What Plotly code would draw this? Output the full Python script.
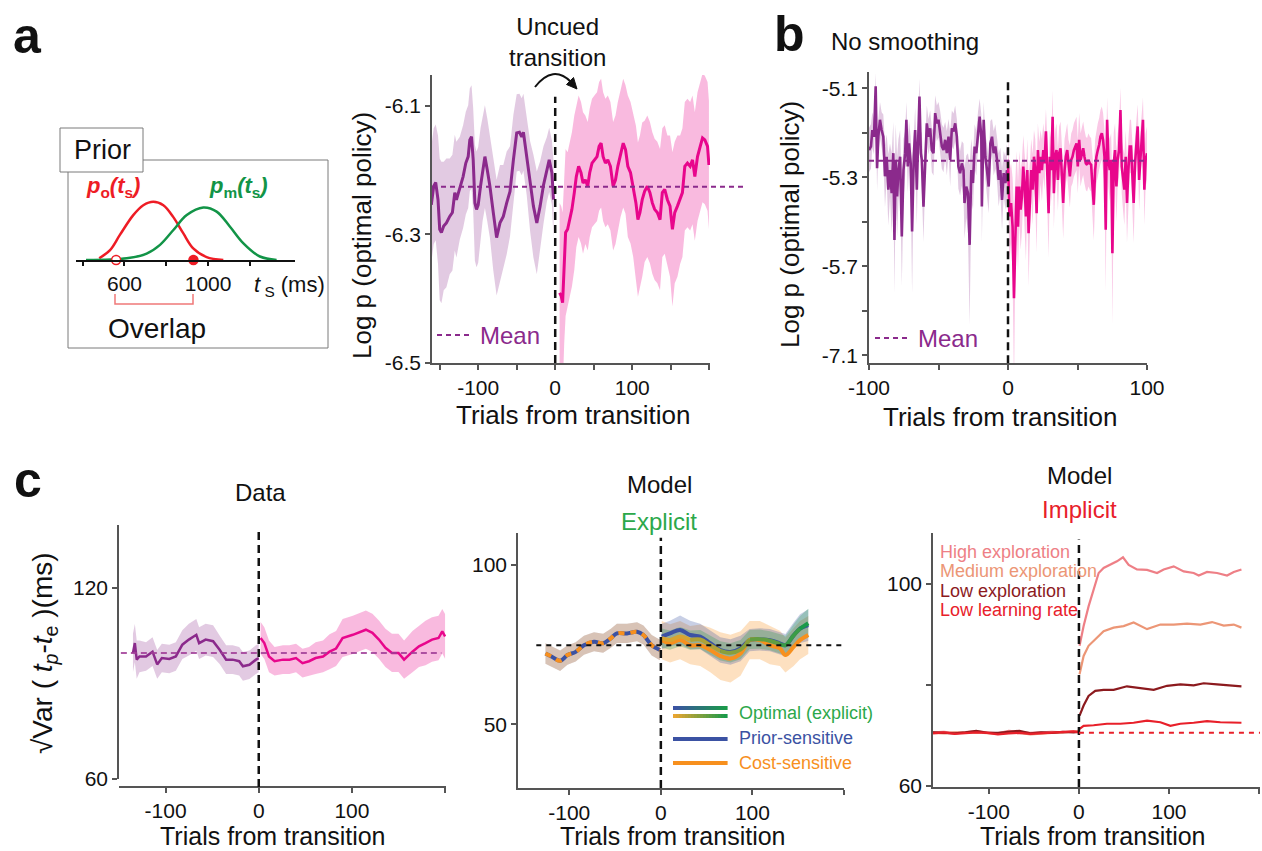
import plotly.graph_objects as go

W, H = 1262, 851
FONT = "Liberation Sans, Arial, Helvetica, sans-serif"


def fx(p):
    return p / W


def fy(p):
    return 1 - p / H


# ---------------- data ----------------
# a (inset): prior distributions over sample interval t_s (ms)
prior_o_ms = [479, 531, 578, 642, 690, 738, 786, 833, 881, 929, 993, 1073]
prior_o_p = [0.03, 0.17, 0.43, 0.77, 0.94, 1.0, 0.94, 0.74, 0.46, 0.20, 0.05, 0.0]
prior_m_ms = [416, 611, 706, 770, 833, 898, 977, 1041, 1105, 1168, 1248, 1328]
prior_m_p = [0.0, 0.03, 0.11, 0.26, 0.51, 0.77, 0.90, 0.83, 0.57, 0.29, 0.06, 0.0]
overlap_ms = [560, 930]

# a: smoothed log p (optimal policy)
a_pre_t = [-160.9, -157.8, -155.2, -152.2, -150.0, -147.8, -144.8, -141.3, -137.0, -133.5,
           -130.4, -128.3, -123.9, -119.6, -116.1, -113.0, -110.9, -108.7, -106.5, -104.3,
           -102.2, -100.0, -97.0, -94.3, -91.3, -88.3, -84.8, -80.4, -76.1, -71.7,
           -67.4, -63.0, -58.7, -54.3, -50.0, -46.5, -43.5, -41.3, -37.0, -32.6,
           -28.3, -23.9, -19.6, -15.2, -10.9, -7.8, -4.3, -2.2]
a_pre_v = [-6.254, -6.225, -6.219, -6.246, -6.292, -6.297, -6.287, -6.282, -6.272, -6.266,
           -6.235, -6.246, -6.228, -6.210, -6.189, -6.179, -6.153, -6.148, -6.184, -6.251,
           -6.261, -6.254, -6.225, -6.199, -6.179, -6.199, -6.225, -6.266, -6.305, -6.282,
           -6.272, -6.251, -6.233, -6.184, -6.142, -6.141, -6.148, -6.141, -6.179, -6.225,
           -6.256, -6.282, -6.256, -6.223, -6.199, -6.184, -6.204, -6.246]
a_pre_s = [0.09, 0.09, 0.09, 0.10, 0.11, 0.11, 0.10, 0.10, 0.09, 0.09,
           0.09, 0.09, 0.08, 0.08, 0.08, 0.08, 0.08, 0.08, 0.08, 0.09,
           0.09, 0.09, 0.09, 0.08, 0.08, 0.08, 0.08, 0.09, 0.09, 0.09,
           0.08, 0.08, 0.07, 0.07, 0.06, 0.06, 0.06, 0.06, 0.06, 0.07,
           0.08, 0.08, 0.07, 0.06, 0.05, 0.05, 0.05, 0.06]
a_post_t = [5.7, 7.8, 9.6, 11.7, 13.5, 16.1, 18.7, 21.7, 24.8, 27.4,
            30.4, 33.5, 36.1, 39.1, 42.2, 44.8, 47.8, 50.9, 54.3, 57.0,
            59.6, 62.2, 65.2, 68.3, 71.7, 75.2, 78.3, 81.3, 84.8, 88.3,
            91.3, 94.3, 97.8, 101.3, 104.8, 107.4, 110.0, 113.0, 116.1, 119.6,
            123.0, 126.1, 129.1, 132.6, 136.1, 139.1, 142.2, 145.7, 149.1, 152.2,
            155.2, 158.7, 162.2, 165.2, 168.3, 171.7, 175.2, 178.3, 181.3, 184.8,
            188.3, 191.3, 194.3, 197.8, 199.6]
a_post_v = [-6.391, -6.396, -6.406, -6.339, -6.297, -6.292, -6.277, -6.261, -6.235, -6.210,
            -6.194, -6.204, -6.220, -6.215, -6.225, -6.204, -6.189, -6.184, -6.179, -6.163,
            -6.158, -6.179, -6.189, -6.184, -6.194, -6.225, -6.215, -6.194, -6.173, -6.158,
            -6.168, -6.194, -6.204, -6.225, -6.251, -6.277, -6.266, -6.246, -6.233, -6.225,
            -6.235, -6.251, -6.261, -6.266, -6.277, -6.235, -6.230, -6.246, -6.256, -6.292,
            -6.266, -6.256, -6.246, -6.235, -6.194, -6.189, -6.194, -6.184, -6.210, -6.179,
            -6.163, -6.150, -6.153, -6.163, -6.192]
a_post_s = [0.14, 0.14, 0.14, 0.13, 0.13, 0.12, 0.12, 0.12, 0.12, 0.11,
            0.11, 0.11, 0.11, 0.10, 0.10, 0.10, 0.10, 0.10, 0.10, 0.10,
            0.10, 0.10, 0.10, 0.10, 0.10, 0.10, 0.10, 0.10, 0.10, 0.10,
            0.10, 0.11, 0.11, 0.11, 0.12, 0.12, 0.12, 0.12, 0.11, 0.11,
            0.11, 0.11, 0.11, 0.11, 0.11, 0.10, 0.10, 0.10, 0.11, 0.12,
            0.11, 0.11, 0.10, 0.10, 0.10, 0.10, 0.10, 0.10, 0.10, 0.10,
            0.10, 0.10, 0.10, 0.10, 0.10]
a_mean = -6.226

# b: unsmoothed log p (optimal policy)
b_pre_t = [-100.0, -98.6, -97.6, -96.4, -95.2, -94.2, -93.3, -92.1, -90.9, -89.7,
           -88.5, -87.3, -86.1, -84.9, -83.7, -82.5, -81.7, -80.8, -79.8, -78.8,
           -77.6, -76.4, -75.2, -74.0, -73.1, -72.1, -71.2, -70.0, -69.0, -67.8,
           -66.8, -65.6, -64.9, -63.7, -62.7, -62.0, -60.8, -59.6, -58.4, -57.2,
           -56.0, -54.8, -53.6, -52.4, -51.2, -50.0, -48.8, -47.6, -46.4, -45.2,
           -44.0, -42.8, -41.6, -40.4, -39.2, -38.0, -36.8, -35.7, -34.5, -33.2,
           -32.0, -31.3, -30.0, -28.8, -27.6, -26.4, -25.2, -24.0, -22.8, -21.6,
           -20.4, -19.2, -18.8, -17.5, -16.3, -15.1, -13.9, -12.7, -11.5, -10.3,
           -9.1, -7.9, -6.7, -5.5, -4.3, -3.1, -1.9, -0.7]
b_pre_v = [-5.239, -5.231, -5.194, -5.209, -5.096, -5.280, -5.209, -5.171, -5.194, -5.209,
           -5.298, -5.254, -5.328, -5.284, -5.336, -5.246, -5.441, -5.261, -5.343, -5.284,
           -5.254, -5.433, -5.284, -5.246, -5.171, -5.276, -5.224, -5.269, -5.422, -5.254,
           -5.194, -5.328, -5.246, -5.119, -5.246, -5.261, -5.366, -5.261, -5.179, -5.209,
           -5.190, -5.239, -5.246, -5.156, -5.179, -5.171, -5.201, -5.231, -5.239, -5.216,
           -5.246, -5.209, -5.261, -5.190, -5.197, -5.179, -5.209, -5.276, -5.291, -5.269,
           -5.284, -5.358, -5.321, -5.336, -5.452, -5.284, -5.313, -5.231, -5.246, -5.194,
           -5.164, -5.209, -5.366, -5.171, -5.254, -5.284, -5.321, -5.224, -5.209, -5.246,
           -5.231, -5.261, -5.306, -5.284, -5.351, -5.291, -5.313, -5.284]
b_pre_s = [0.05, 0.05, 0.04, 0.04, 0.03, 0.05, 0.04, 0.04, 0.04, 0.05,
           0.07, 0.05, 0.08, 0.06, 0.09, 0.07, 0.12, 0.08, 0.09, 0.07,
           0.06, 0.11, 0.07, 0.05, 0.04, 0.06, 0.05, 0.06, 0.14, 0.06,
           0.05, 0.08, 0.05, 0.04, 0.05, 0.06, 0.08, 0.05, 0.04, 0.04,
           0.04, 0.05, 0.05, 0.04, 0.04, 0.04, 0.05, 0.05, 0.05, 0.04,
           0.05, 0.04, 0.06, 0.04, 0.04, 0.04, 0.04, 0.05, 0.05, 0.05,
           0.06, 0.08, 0.07, 0.09, 0.18, 0.07, 0.06, 0.05, 0.05, 0.04,
           0.04, 0.05, 0.08, 0.04, 0.05, 0.06, 0.06, 0.05, 0.04, 0.05,
           0.05, 0.05, 0.06, 0.05, 0.07, 0.05, 0.06, 0.06]
b_post_t = [0.0, 1.0, 2.2, 3.3, 4.3, 5.3, 6.2, 7.2, 8.1, 9.1,
            10.0, 11.0, 12.0, 12.9, 13.9, 14.8, 15.8, 16.7, 17.7, 18.7,
            19.6, 20.6, 21.5, 22.5, 23.4, 24.4, 25.4, 26.3, 27.3, 28.2,
            29.2, 30.1, 31.1, 32.1, 33.0, 34.0, 34.9, 35.9, 36.8, 37.8,
            38.8, 39.7, 40.7, 41.6, 42.6, 43.5, 44.5, 45.5, 46.4, 47.4,
            48.3, 49.3, 50.2, 51.2, 52.2, 53.1, 54.1, 55.0, 56.0, 56.9,
            57.9, 58.9, 59.8, 60.8, 61.7, 62.7, 63.6, 64.6, 65.6, 66.5,
            67.5, 68.4, 69.4, 70.3, 71.3, 72.2, 73.2, 74.2, 75.1, 76.1,
            77.0, 78.0, 78.9, 79.9, 80.9, 81.8, 82.8, 83.7, 84.7, 85.6,
            86.6, 87.6, 88.5, 89.5, 90.4, 91.4, 92.3, 93.3, 94.3, 95.2,
            96.2, 97.1, 98.1, 99.0, 100.0]
b_post_v = [-5.261, -5.388, -5.358, -5.411, -5.572, -5.396, -5.321, -5.411, -5.321, -5.373,
            -5.343, -5.276, -5.321, -5.388, -5.284, -5.426, -5.343, -5.284, -5.328, -5.254,
            -5.284, -5.381, -5.239, -5.291, -5.254, -5.284, -5.239, -5.269, -5.197, -5.291,
            -5.381, -5.254, -5.284, -5.164, -5.336, -5.254, -5.239, -5.306, -5.246, -5.235,
            -5.291, -5.358, -5.284, -5.254, -5.239, -5.276, -5.298, -5.261, -5.254, -5.239,
            -5.231, -5.224, -5.276, -5.216, -5.261, -5.246, -5.235, -5.254, -5.269, -5.272,
            -5.261, -5.269, -5.272, -5.321, -5.362, -5.284, -5.254, -5.239, -5.227, -5.209,
            -5.201, -5.216, -5.254, -5.418, -5.171, -5.261, -5.284, -5.261, -5.471, -5.269,
            -5.239, -5.321, -5.261, -5.239, -5.149, -5.276, -5.306, -5.328, -5.254, -5.358,
            -5.284, -5.231, -5.231, -5.306, -5.358, -5.269, -5.224, -5.186, -5.306, -5.254,
            -5.194, -5.171, -5.328, -5.261, -5.246]
b_post_s = [0.06, 0.10, 0.09, 0.11, 0.20, 0.10, 0.08, 0.10, 0.08, 0.09,
            0.08, 0.07, 0.08, 0.10, 0.07, 0.12, 0.08, 0.07, 0.08, 0.06,
            0.07, 0.09, 0.06, 0.07, 0.06, 0.07, 0.06, 0.06, 0.05, 0.07,
            0.10, 0.06, 0.07, 0.06, 0.08, 0.06, 0.06, 0.07, 0.06, 0.06,
            0.07, 0.08, 0.07, 0.06, 0.06, 0.06, 0.07, 0.06, 0.06, 0.06,
            0.06, 0.06, 0.06, 0.06, 0.06, 0.06, 0.06, 0.06, 0.06, 0.06,
            0.06, 0.06, 0.06, 0.07, 0.08, 0.07, 0.06, 0.06, 0.06, 0.06,
            0.06, 0.06, 0.06, 0.14, 0.05, 0.06, 0.07, 0.06, 0.16, 0.07,
            0.06, 0.08, 0.06, 0.06, 0.05, 0.06, 0.07, 0.08, 0.06, 0.09,
            0.07, 0.06, 0.06, 0.07, 0.09, 0.06, 0.06, 0.05, 0.07, 0.06,
            0.05, 0.05, 0.08, 0.06, 0.06]
b_mean = -5.263
b_ticks = [-5.1, -5.2, -5.3, -5.4, -5.5, -5.6, -5.7]
b_ticktext = ["-5.1", "", "-5.3", "", "-5.7", "", "-7.1"]

# c (left): data, sqrt Var(tp - te) in ms
c1_pre_t = [-135, -133, -131, -128, -121, -114, -109, -104, -96, -89, -82, -75,
            -67, -64, -57, -49, -42, -35, -28, -21, -17, -10, -3, 0]
c1_pre_v = [99.6, 102.7, 97.5, 98.5, 98.5, 100.0, 96.0, 98.0, 97.7, 98.5, 102.2, 103.8,
            105.3, 102.7, 103.8, 103.3, 100.6, 97.5, 97.5, 97.0, 95.4, 95.9, 97.5, 98.0]
c1_pre_s = [6, 6, 6, 5, 4.5, 4.5, 4.5, 4.5, 4.5, 4.5, 4.5, 5,
            5, 5, 5, 5, 4.5, 4.5, 4.5, 4.5, 4.5, 4.5, 4.5, 4.5]
c1_post_t = [2, 6, 11, 17, 26, 33, 40, 47, 54, 61, 69, 76, 83, 90, 101,
             108, 115, 122, 129, 136, 143, 150, 156, 165, 172, 179, 186, 193, 197, 200]
c1_post_v = [104.3, 102.7, 98.5, 97.0, 97.5, 97.5, 98.0, 96.4, 97.0, 98.0, 98.5, 100.0, 101.0, 104.3, 105.3,
             106.1, 106.9, 105.9, 103.8, 101.2, 99.6, 99.6, 97.5, 100.0, 101.7, 102.7, 103.8, 104.3, 106.4, 104.8]
c1_post_s = [5, 5, 5, 4.5, 4.5, 4.5, 4.5, 4.5, 4.5, 5, 5, 5.5, 5.5, 6, 6,
             6, 6, 6, 6, 6, 6, 6, 6, 6.5, 6.5, 7, 7, 7, 7, 7]
c1_mean = 99.6

# c (middle): explicit model
c2_pre_t = [-126, -119, -110, -102, -93, -84, -73, -63, -55, -48, -37, -26, -19, -10, -1]
c2_pre_v = [72.2, 71.2, 69.9, 71.7, 72.7, 74.8, 75.9, 75.4, 76.9, 78.5, 78.5, 79.0, 78.0, 74.8, 73.3]
c2_pre_s = [3.2, 3.2, 3.2, 3.0, 3.0, 3.0, 3.0, 3.0, 3.0, 3.0, 3.0, 3.0, 3.0, 3.2, 3.2]
c2_post_t = [1, 10, 21, 32, 43, 54, 65, 76, 87, 97, 108, 119, 130, 136, 145, 152, 161]
c2_prior_v = [77.5, 78.5, 79.6, 78.0, 77.5, 75.4, 73.3, 72.7, 73.8, 76.4, 76.6, 76.4, 75.4, 74.8, 77.9, 80.0, 81.1]
c2_prior_s = [4, 4, 4.5, 4.5, 4, 4, 4, 4, 4, 3.5, 3.5, 3.5, 3.5, 3.5, 4, 4.5, 5]
c2_cost_v = [76.4, 75.4, 76.4, 74.8, 74.8, 73.3, 71.4, 70.6, 72.2, 76.4, 76.4, 74.8, 73.8, 71.7, 74.3, 76.4, 78.0]
c2_cost_s = [6, 6, 6, 6, 6.5, 7, 7.5, 7.5, 7, 6, 6, 6, 5.5, 5.5, 6, 6, 6]
c2_opt_v = [77.0, 76.4, 77.5, 76.4, 76.6, 74.8, 73.0, 72.4, 73.4, 76.6, 76.7, 76.2, 75.2, 74.8, 77.9, 80.0, 81.7]
c2_opt_s = [3, 3, 3, 3, 3, 3, 3, 3, 3, 3, 3, 3, 3, 3, 3.5, 4, 4.5]
c2_mean = 74.8

# c (right): implicit model
c3_pre_t = [-162, -150, -138, -126, -114, -102, -90, -78, -66, -54, -42, -30, -18, -6, 0]
c3_high_pre = [70.6, 70.7, 70.5, 70.6, 70.8, 70.6, 70.4, 70.9, 70.7, 70.5, 70.6, 70.7, 70.6, 70.8, 70.9]
c3_med_pre = [70.5, 70.4, 70.6, 70.5, 70.6, 70.4, 70.3, 70.6, 70.5, 70.2, 70.4, 70.5, 70.6, 70.7, 70.8]
c3_low_pre = [70.6, 70.5, 70.4, 70.6, 70.9, 70.5, 70.5, 70.7, 70.9, 70.4, 70.6, 70.5, 70.7, 70.6, 70.7]
c3_lr_pre = [70.4, 70.6, 70.3, 70.5, 70.6, 70.5, 70.2, 70.4, 70.5, 70.3, 70.4, 70.5, 70.6, 70.8, 70.6]
c3_high_t = [0.7, 5.2, 10.7, 16.3, 21.9, 27.4, 34.8, 42.2, 48.9, 55.2, 64.4, 75.6, 86.7, 94.1,
             105.2, 116.3, 127.4, 133.0, 142.2, 153.3, 164.4, 171.9, 180.4]
c3_high_v = [87.7, 91.6, 95.5, 98.8, 102.1, 103.1, 103.7, 104.4, 105.2, 103.7, 102.8, 102.7, 102.1, 102.8,
             103.4, 102.4, 102.1, 101.6, 102.3, 102.1, 101.6, 102.3, 102.8]
c3_med_t = [0.7, 5.2, 10.7, 18.1, 27.4, 38.5, 49.6, 60.7, 75.6, 90.4, 105.2, 120.0, 134.8, 147.8,
            160.7, 171.9, 180.4]
c3_med_v = [82.1, 85.7, 87.7, 89.0, 90.6, 91.3, 91.6, 92.3, 91.0, 91.9, 91.9, 92.1, 91.9, 92.4,
            91.7, 91.9, 91.3]
c3_low_t = [0.7, 5.2, 10.7, 18.1, 27.4, 38.5, 53.3, 68.1, 83.0, 97.8, 112.6, 127.4, 138.5, 153.3,
            168.1, 180.4]
c3_low_v = [73.9, 75.9, 77.8, 78.8, 79.0, 79.0, 79.7, 79.3, 79.0, 79.8, 80.1, 79.9, 80.3, 80.1,
            79.9, 79.7]
c3_lr_t = [0.7, 5.2, 16.3, 31.1, 45.9, 60.7, 75.6, 90.4, 101.5, 112.6, 127.4, 142.2, 157.0, 168.1, 180.4]
c3_lr_v = [71.3, 71.9, 72.0, 72.3, 72.3, 72.5, 72.9, 72.6, 71.9, 72.3, 72.5, 72.8, 72.6, 72.6, 72.5]
c3_baseline = 70.5

# ---------------- styles ----------------
PURPLE = "#8b2a8c"
PINK = "#e8068c"
PURPLE_BAND = "rgba(139,42,140,0.25)"
PINK_BAND = "rgba(232,6,140,0.28)"
BLUE = "#3b52a3"
ORANGE = "#f7901e"
GREEN = "#1a9a4a"
YELLOW = "#e9a530"
RED = "#e8202a"
HIGH_C = "#ee7f86"
MED_C = "#ec9676"
LOW_C = "#8c1a1e"
INK = "#111111"
AXIS = "#555555"

fig = go.Figure()


def band(t, m, s, color, xa, ya):
    up = [a + b for a, b in zip(m, s)]
    lo = [a - b for a, b in zip(m, s)]
    fig.add_trace(go.Scatter(x=list(t) + list(t)[::-1], y=up + lo[::-1], fill="toself",
                             fillcolor=color, line=dict(width=0), mode="lines",
                             hoverinfo="skip", xaxis=xa, yaxis=ya))


def line(t, v, color, width, xa, ya, dash=None, shape="linear"):
    fig.add_trace(go.Scatter(x=t, y=v, mode="lines",
                             line=dict(color=color, width=width, dash=dash, shape=shape),
                             xaxis=xa, yaxis=ya))


def hexrgb(c):
    c = c.lstrip("#")
    return tuple(int(c[i:i + 2], 16) for i in (0, 2, 4))


def mix(c1, c2, f):
    a, b = hexrgb(c1), hexrgb(c2)
    return "rgb(%d,%d,%d)" % tuple(round(a[i] + (b[i] - a[i]) * f) for i in range(3))


# ---- inset: priors ----
fig.add_trace(go.Scatter(x=prior_o_ms, y=prior_o_p, mode="lines", cliponaxis=False,
                         line=dict(color="#ee1c25", width=2.5, shape="spline"),
                         xaxis="x6", yaxis="y6"))
fig.add_trace(go.Scatter(x=prior_m_ms, y=prior_m_p, mode="lines", cliponaxis=False,
                         line=dict(color="#129447", width=2.5, shape="spline"),
                         xaxis="x6", yaxis="y6"))
fig.add_trace(go.Scatter(x=overlap_ms, y=[0, 0], mode="markers", cliponaxis=False,
                         marker=dict(size=9, color=["white", "#ee1c25"],
                                     line=dict(color="#ee1c25", width=1.5)),
                         xaxis="x6", yaxis="y6"))

# ---- a ----
band(a_pre_t, a_pre_v, a_pre_s, PURPLE_BAND, "x", "y")
band(a_post_t, a_post_v, a_post_s, PINK_BAND, "x", "y")
line(a_pre_t, a_pre_v, PURPLE, 3, "x", "y")
line(a_post_t, a_post_v, PINK, 3, "x", "y")

# ---- b ----
band(b_pre_t, b_pre_v, b_pre_s, PURPLE_BAND, "x2", "y2")
band(b_post_t, b_post_v, b_post_s, "rgba(232,6,140,0.22)", "x2", "y2")
line(b_pre_t, b_pre_v, PURPLE, 2.6, "x2", "y2")
line(b_post_t, b_post_v, PINK, 2.6, "x2", "y2")

# ---- c left ----
band(c1_pre_t, c1_pre_v, c1_pre_s, PURPLE_BAND, "x3", "y3")
band(c1_post_t, c1_post_v, c1_post_s, PINK_BAND, "x3", "y3")
line(c1_pre_t, c1_pre_v, PURPLE, 2.5, "x3", "y3")
line(c1_post_t, c1_post_v, PINK, 2.5, "x3", "y3")

# ---- c middle ----
band(c2_pre_t, c2_pre_v, c2_pre_s, "rgba(59,82,163,0.25)", "x4", "y4")
band(c2_pre_t, c2_pre_v, c2_pre_s, "rgba(247,144,30,0.25)", "x4", "y4")
band(c2_post_t, c2_cost_v, c2_cost_s, "rgba(247,144,30,0.28)", "x4", "y4")
band(c2_post_t, c2_prior_v, c2_prior_s, "rgba(59,82,163,0.28)", "x4", "y4")
band(c2_post_t, c2_opt_v, c2_opt_s, "rgba(26,154,74,0.28)", "x4", "y4")
line(c2_pre_t, c2_pre_v, BLUE, 4, "x4", "y4", shape="spline")
line(c2_pre_t, c2_pre_v, ORANGE, 4, "x4", "y4", dash="6px,6px", shape="spline")
line(c2_post_t, c2_prior_v, BLUE, 4, "x4", "y4", shape="spline")
line(c2_post_t, c2_cost_v, ORANGE, 4, "x4", "y4", shape="spline")
n_opt = len(c2_post_t)
for k in range(0, n_opt - 1, 3):
    seg = slice(k, min(k + 4, n_opt))
    f = min(1.0, (k + 1.5) / (n_opt - 1))
    line(c2_post_t[seg], c2_opt_v[seg], mix(YELLOW, GREEN, f), 4, "x4", "y4", shape="spline")

# ---- c right ----
for pre, t, v, col in [(c3_high_pre, c3_high_t, c3_high_v, HIGH_C),
                       (c3_med_pre, c3_med_t, c3_med_v, MED_C),
                       (c3_low_pre, c3_low_t, c3_low_v, LOW_C),
                       (c3_lr_pre, c3_lr_t, c3_lr_v, RED)]:
    line(c3_pre_t, pre, col, 2.2, "x5", "y5")
    line(t, v, col, 2.2, "x5", "y5")


# ---------------- axes ----------------
def ax(**kw):
    d = dict(showline=True, linecolor=AXIS, linewidth=1.5, ticks="outside", ticklen=5,
             tickwidth=1.5, tickcolor=AXIS, showgrid=False, zeroline=False, automargin=False,
             tickfont=dict(size=21, color=INK, family=FONT), tickmode="array")
    d.update(kw)
    return d


layout_axes = dict(
    xaxis=ax(domain=[fx(432), fx(710)], range=[-160, 201], anchor="y",
             tickvals=[-150, -100, -50, 0, 50, 100, 150, 200],
             ticktext=["", "-100", "", "0", "", "100", "", ""]),
    yaxis=ax(domain=[fy(363), fy(75)], range=[-6.5, -6.052], anchor="x",
             tickvals=[-6.5, -6.3, -6.1], ticktext=["-6.5", "-6.3", "-6.1"]),
    xaxis2=ax(domain=[fx(869), fx(1147)], range=[-100, 100], anchor="y2",
              tickvals=[-100, -50, 0, 50, 100], ticktext=["-100", "", "0", "", "100"]),
    yaxis2=ax(domain=[fy(363.3), fy(71.7)], range=[-5.718, -5.063], anchor="x2",
              tickvals=b_ticks, ticktext=b_ticktext),
    xaxis3=ax(domain=[fx(119), fx(446)], range=[-150, 201], anchor="free", position=fy(787),
              tickvals=[-100, 0, 100, 200], ticktext=["-100", "0", "100", ""]),
    yaxis3=ax(domain=[fy(779), fy(525)], range=[60, 139.8], anchor="x3",
              tickvals=[60, 120], ticktext=["60", "120"]),
    xaxis4=ax(domain=[fx(518), fx(844)], range=[-156, 200], anchor="y4",
              tickvals=[-100, 0, 100, 200], ticktext=["-100", "0", "100", ""]),
    yaxis4=ax(domain=[fy(788), fy(533)], range=[30, 110], anchor="x4",
              tickvals=[50, 100], ticktext=["50", "100"]),
    xaxis5=ax(domain=[fx(933), fx(1260)], range=[-162, 201], anchor="y5",
              tickvals=[-100, 0, 100, 200], ticktext=["-100", "0", "100", ""]),
    yaxis5=ax(domain=[fy(787), fy(533)], range=[59.8, 110], anchor="x5",
              tickvals=[60, 80, 100], ticktext=["60", "", "100"]),
    xaxis6=ax(domain=[fx(76), fx(295)], range=[368, 1416], anchor="y6",
              tickvals=[400, 600, 800, 1000, 1200], ticktext=["", "600", "", "1000", ""],
              ticklen=4, linecolor=INK, tickcolor=INK,
              tickfont=dict(size=21, color=INK, family=FONT)),
    yaxis6=dict(domain=[fy(260), fy(190)], range=[0, 1.2007], anchor="x6", visible=False,
                showgrid=False, zeroline=False, automargin=False),
)

# ---------------- shapes ----------------
shapes = []
VDASH = dict(color="#111", width=2.5, dash="8px,5px")

# transition markers
shapes.append(dict(type="line", xref="x", yref="y", x0=0, x1=0, y0=-6.5, y1=-6.086, line=VDASH))
shapes.append(dict(type="line", xref="x2", yref="y2", x0=0, x1=0, y0=-5.718, y1=-5.081, line=VDASH))
shapes.append(dict(type="line", xref="x3", yref="paper", x0=0, x1=0, y0=fy(787), y1=fy(527), line=VDASH))
shapes.append(dict(type="line", xref="x4", yref="y4", x0=0, x1=0, y0=30, y1=108.5, line=VDASH))
shapes.append(dict(type="line", xref="x5", yref="y5", x0=0, x1=0, y0=59.8, y1=108.7, line=VDASH))

# mean / baseline references
shapes.append(dict(type="line", xref="paper", yref="y", x0=fx(432), x1=fx(743), y0=a_mean, y1=a_mean,
                   line=dict(color=PURPLE, width=2, dash="5px,4px")))
shapes.append(dict(type="line", xref="x2", yref="y2", x0=-100, x1=100, y0=b_mean, y1=b_mean,
                   line=dict(color=PURPLE, width=2, dash="5px,4px")))
shapes.append(dict(type="line", xref="x3", yref="y3", x0=-148, x1=196, y0=c1_mean, y1=c1_mean,
                   line=dict(color="rgba(160,60,150,0.85)", width=2, dash="6px,4px")))
shapes.append(dict(type="line", xref="x4", yref="y4", x0=-136, x1=200, y0=c2_mean, y1=c2_mean,
                   line=dict(color="#111", width=2, dash="5px,5px")))
shapes.append(dict(type="line", xref="x5", yref="y5", x0=0, x1=201, y0=c3_baseline, y1=c3_baseline,
                   line=dict(color=RED, width=2, dash="5px,5px")))

# "Mean" key samples
shapes.append(dict(type="line", xref="paper", yref="paper", x0=fx(437), x1=fx(471), y0=fy(335), y1=fy(335),
                   line=dict(color=PURPLE, width=2, dash="5px,4px")))
shapes.append(dict(type="line", xref="paper", yref="paper", x0=fx(875), x1=fx(909), y0=fy(338), y1=fy(338),
                   line=dict(color=PURPLE, width=2, dash="5px,4px")))

# inset frame and tab
shapes.append(dict(type="rect", xref="paper", yref="paper", x0=fx(68), x1=fx(328), y0=fy(348), y1=fy(160),
                   line=dict(color="#7a7a7a", width=1), fillcolor="rgba(0,0,0,0)", layer="below"))
shapes.append(dict(type="rect", xref="paper", yref="paper", x0=fx(60), x1=fx(143), y0=fy(172), y1=fy(128),
                   line=dict(color="#7a7a7a", width=1), fillcolor="white", layer="below"))
# overlap bracket
shapes.append(dict(type="path", xref="paper", yref="paper",
                   path="M %f %f L %f %f L %f %f L %f %f" % (fx(115), fy(294), fx(115), fy(304),
                                                             fx(193), fy(304), fx(193), fy(294)),
                   line=dict(color="#f07878", width=1.5)))

# curved arrow over the transition
shapes.append(dict(type="path", xref="paper", yref="paper",
                   path="M %f %f Q %f %f %f %f" % (fx(535), fy(87), fx(553), fy(64), fx(571), fy(82)),
                   line=dict(color="#111", width=2)))
shapes.append(dict(type="path", xref="paper", yref="paper",
                   path="M %f %f L %f %f L %f %f Z" % (fx(577), fy(89), fx(566.5), fy(84.5), fx(573.5), fy(77.5)),
                   line=dict(color="#111", width=1), fillcolor="#111"))


# explicit-model key swatches
def grad_swatch(y, c1, c2, n=18):
    x0, x1 = 673, 727
    for i in range(n):
        a = x0 + (x1 - x0) * i / n
        b = x0 + (x1 - x0) * (i + 1) / n + 0.6
        shapes.append(dict(type="line", xref="paper", yref="paper", x0=fx(a), x1=fx(b),
                           y0=fy(y), y1=fy(y), line=dict(color=mix(c1, c2, i / (n - 1)), width=4)))


grad_swatch(708, BLUE, GREEN)
grad_swatch(716, YELLOW, GREEN)
grad_swatch(739, BLUE, BLUE)
grad_swatch(763, ORANGE, ORANGE)

# ---------------- text ----------------
ann = []


def txt(x, y, s, size, color=INK, xanchor="center", yanchor="middle", angle=0):
    ann.append(dict(x=fx(x), y=fy(y), xref="paper", yref="paper", text=s, showarrow=False,
                    font=dict(size=size, color=color, family=FONT), xanchor=xanchor,
                    yanchor=yanchor, textangle=angle))


# panel letters
txt(27, 36, "<b>a</b>", 50)
txt(789, 34, "<b>b</b>", 50)
txt(28, 480, "<b>c</b>", 50)

# inset text
txt(102, 150, "Prior", 27)
txt(113, 187, "<b><i>p</i><sub>o</sub><i>(t</i><sub>s</sub><i>)</i></b>", 22, color="#ee1c25")
txt(238, 187, "<b><i>p</i><sub>m</sub><i>(t</i><sub>s</sub><i>)</i></b>", 22, color="#129447")
txt(289, 286, "<i>t</i><sub> S</sub> (ms)", 22)
txt(157, 328, "Overlap", 28)

# a
txt(557, 42, "Uncued<br>transition", 24)
txt(362, 236, "Log p (optimal policy)", 26, angle=-90)
txt(573, 415, "Trials from transition", 26)
txt(478, 335, "Mean", 24, color=PURPLE, xanchor="left")

# b
txt(829, 42, "No smoothing", 24, xanchor="left")
txt(790, 225, "Log p (optimal policy)", 26, angle=-90)
txt(1000, 417, "Trials from transition", 26)
txt(916, 338, "Mean", 24, color=PURPLE, xanchor="left")

# c left
txt(260, 493, "Data", 24)
txt(44, 653, "√Var ( <i>t</i><sub><i>p</i></sub>-<i>t</i><sub>e</sub> )(ms)", 28, angle=-90)
txt(273, 836, "Trials from transition", 25)

# c middle
txt(659, 484, "Model", 24)
txt(659, 521, "Explicit", 24, color="#2ca84a")
txt(673, 836, "Trials from transition", 25)
txt(737, 713, "Optimal (explicit)", 18, color="#2ca84a", xanchor="left")
txt(737, 738, "Prior-sensitive", 18, color=BLUE, xanchor="left")
txt(737, 763, "Cost-sensitive", 18, color=ORANGE, xanchor="left")

# c right
txt(1079, 476, "Model", 24)
txt(1079, 510, "Implicit", 24, color=RED)
txt(1093, 836, "Trials from transition", 25)
txt(938, 552, "High exploration", 18, color=HIGH_C, xanchor="left")
txt(938, 571, "Medium exploration", 18, color=MED_C, xanchor="left")
txt(938, 591, "Low exploration", 18, color=LOW_C, xanchor="left")
txt(938, 610, "Low learning rate", 18, color=RED, xanchor="left")

fig.update_layout(
    width=W, height=H, margin=dict(l=0, r=0, t=0, b=0, autoexpand=False),
    paper_bgcolor="white", plot_bgcolor="white", showlegend=False,
    font=dict(family=FONT, color=INK), shapes=shapes, annotations=ann,
    **layout_axes,
)

fig.write_html("out.html")
